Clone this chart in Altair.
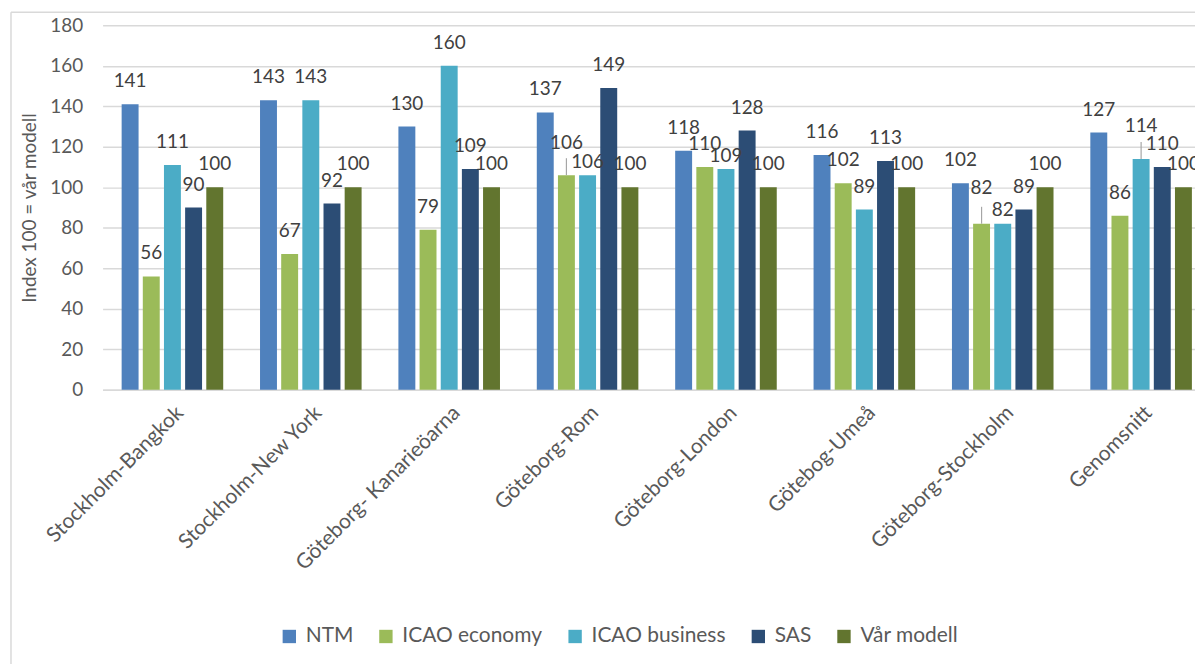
import altair as alt
import pandas as pd

categories = ["Stockholm-Bangkok", "Stockholm-New York", "Göteborg- Kanarieöarna",
              "Göteborg-Rom", "Göteborg-London", "Götebog-Umeå",
              "Göteborg-Stockholm", "Genomsnitt"]
series = ["NTM", "ICAO economy", "ICAO business", "SAS", "Vår modell"]
ntm = [141, 143, 130, 137, 118, 116, 102, 127]
icao_economy = [56, 67, 79, 106, 110, 102, 82, 86]
icao_business = [111, 143, 160, 106, 109, 89, 82, 114]
sas = [90, 92, 109, 149, 128, 113, 89, 110]
var_modell = [100, 100, 100, 100, 100, 100, 100, 100]
colors = ["#4F81BD", "#9BBB59", "#4BACC6", "#2C4D75", "#62752F"]
y_ticks = list(range(0, 181, 20))

rows = []
for s, vals in zip(series, [ntm, icao_economy, icao_business, sas, var_modell]):
    for c, v in zip(categories, vals):
        rows.append({"Kategori": c, "Serie": s, "Värde": v})
df = pd.DataFrame(rows)

# manual label placement as in the reference (pixel lift above the bar top)
DEFAULT_LIFT = 23
label_lift = {
    ("Göteborg-Rom", "ICAO economy"): 32,
    ("Göteborg-Rom", "ICAO business"): 13,
    ("Göteborg-London", "ICAO business"): 13,
    ("Göteborg-Stockholm", "ICAO economy"): 36,
    ("Göteborg-Stockholm", "ICAO business"): 14,
    ("Genomsnitt", "ICAO business"): 33,
}
leaders = [("Göteborg-Rom", "ICAO economy"), ("Göteborg-Stockholm", "ICAO economy"),
           ("Genomsnitt", "ICAO business")]
df["lift"] = [label_lift.get((c, s), DEFAULT_LIFT) for c, s in zip(df["Kategori"], df["Serie"])]
df["leader"] = [(c, s) in leaders for c, s in zip(df["Kategori"], df["Serie"])]

FONT = "Lato"
GRID = "#D9D9D9"
TXT = "#595959"

x_scale = alt.Scale(paddingInner=0.266, paddingOuter=0.08, align=0.86)
x_enc = alt.X("Kategori:N", sort=categories, scale=x_scale,
              axis=alt.Axis(title=None, labelAngle=-45, labelFontSize=21,
                            labelColor=TXT, labelFont=FONT, ticks=False,
                            domainColor=GRID, domainWidth=1.5,
                            labelPadding=12, labelLimit=400))
xoff = alt.XOffset("Serie:N", sort=series, scale=alt.Scale(paddingInner=0.2))

base = alt.Chart(df)

bars = base.mark_bar().encode(
    x=x_enc,
    xOffset=xoff,
    y=alt.Y("Värde:Q", scale=alt.Scale(domain=[0, 180]),
            axis=alt.Axis(title="Index 100 = vår modell", values=y_ticks,
                          labelFontSize=19, labelColor=TXT, labelFont=FONT,
                          titleFontSize=19, titleColor=TXT, titleFont=FONT,
                          titleFontWeight="normal", domain=False, ticks=False,
                          gridColor=GRID, gridWidth=1.5, labelPadding=20,
                          titlePadding=10)),
    color=alt.Color("Serie:N", sort=series,
                    scale=alt.Scale(domain=series, range=colors),
                    legend=alt.Legend(title=None, orient="none", direction="horizontal",
                                      legendX=177, legendY=603,
                                      symbolType="square", symbolSize=180,
                                      symbolStrokeWidth=0,
                                      labelFontSize=21, labelColor=TXT,
                                      labelFont=FONT, columnPadding=22,
                                      labelOffset=6)),
)

leader_rules = base.transform_filter(alt.datum.leader).mark_rule(
    color="#A6A6A6", strokeWidth=1.2, y2Offset=-17).encode(
    x=alt.X("Kategori:N", sort=categories),
    xOffset=xoff,
    y=alt.Y("Värde:Q"),
    y2=alt.Y2("Värde"),
)

label_layers = []
for lift in sorted(set(df["lift"])):
    label_layers.append(
        base.transform_filter(alt.datum.lift == lift).mark_text(
            baseline="middle", dy=-lift, fontSize=19, font=FONT, color="#404040").encode(
            x=alt.X("Kategori:N", sort=categories),
            xOffset=xoff,
            y=alt.Y("Värde:Q"),
            text=alt.Text("Värde:Q"),
        )
    )

# light grey chart-area border (top and left edges, as in the reference)
border_top = alt.Chart(pd.DataFrame({"b": [0]})).mark_rule(color=GRID, strokeWidth=1.5).encode(
    x=alt.value(-92), x2=alt.value(1100), y=alt.value(-13))
border_left = alt.Chart(pd.DataFrame({"b": [0]})).mark_rule(color=GRID, strokeWidth=1.5).encode(
    x=alt.value(-92), y=alt.value(-13), y2=alt.value(660))

chart = alt.layer(border_top, border_left, bars, leader_rules, *label_layers).properties(
    width=1097, height=366,
    padding={"left": 95, "top": 16, "right": 0, "bottom": 274},
    autosize=alt.AutoSizeParams(type="none"),
).configure_view(stroke=None)

chart.save("out.html", embed_options={"renderer": "svg", "actions": False})
